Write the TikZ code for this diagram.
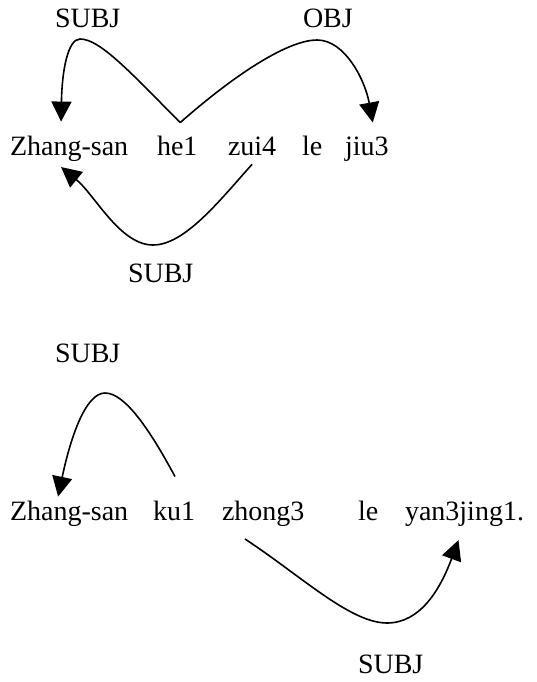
\documentclass[tikz,border=0pt]{standalone}
\usepackage{fontspec}
\setmainfont{Liberation Serif}
\usetikzlibrary{arrows.meta,calc}
\begin{document}
\begin{tikzpicture}[x=1pt,y=-1pt,
  word/.style={anchor=base west,inner sep=0pt,outer sep=0pt,font=\fontsize{28}{33}\selectfont},
  arc/.style={line width=1.6pt,-{Triangle[length=20pt,width=20pt]}}]
\useasboundingbox (0,0) rectangle (536,682);
% row 1
\node[word] (z1) at (10,155) {Zhang-san};
\node[word] (he) at (157,155) {he1};
\node[word] (zui) at (228,155) {zui4};
\node[word] (le1) at (302,155) {le};
\node[word] (jiu) at (345,155) {jiu3};
\node[word] (l1) at (55,28) {SUBJ};
\node[word] (l2) at (303,28) {OBJ};
\node[word] (l3) at (128,282) {SUBJ};
\draw[arc] ($(he.north)+(3,-13)$) .. controls (130,72) and (100,39) .. (80,39)
  .. controls (68,39) and (62,70) .. ($(z1.north)+(-8,-14)$);
\draw[arc] ($(he.north)+(3,-13)$) .. controls (240,70) and (290,40) .. (317,40)
  .. controls (345,40) and (365,80) .. ($(jiu.north)+(6,-14)$);
\draw[arc] ($(zui.south)+(0,9)$) .. controls (220,200) and (185,245) .. (153,245)
  .. controls (120,245) and (95,195) .. ($(z1.south)+(-8,6)$);
% row 2
\node[word] (z2) at (10,520) {Zhang-san};
\node[word] (ku) at (153,520) {ku1};
\node[word] (zh) at (222,520) {zhong3};
\node[word] (le2) at (358,520) {le};
\node[word] (yan) at (405,520) {yan3jing1.};
\node[word] (l4) at (55,362) {SUBJ};
\node[word] (l5) at (358,673) {SUBJ};
\draw[arc] ($(ku.north)+(1,-24)$) .. controls (150,430) and (125,393) .. (105,393)
  .. controls (85,393) and (70,440) .. ($(z2.north)+(-11,-4)$);
\draw[arc] ($(zh.south west)+(23,13)$) .. controls (300,575) and (350,623) .. (387,623)
  .. controls (420,623) and (440,590) .. ($(yan.south)+(-6,14)$);
\end{tikzpicture}
\end{document}
